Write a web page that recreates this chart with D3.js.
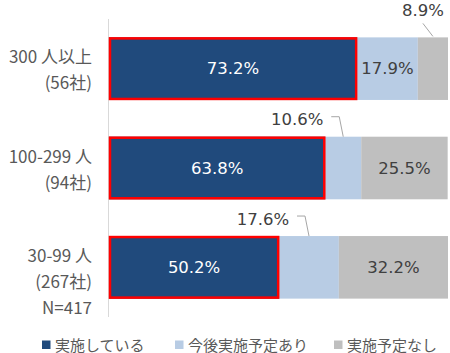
<!DOCTYPE html>
<html>
<head>
<meta charset="utf-8">
<script src="https://cdn.jsdelivr.net/npm/d3@7"></script>
<style>
body { margin: 0; background: #fff; }
svg { font-family: "Noto Sans CJK JP", "Noto Sans", sans-serif; }
.val { font-family: "DejaVu Sans", sans-serif; }
</style>
</head>
<body>
<svg id="chart" width="450" height="353"></svg>
<script>
// categories and series (percent)
let categories = ['300', '100-299', '30-99'];
let catLines = [['300 人以上', '(56社)'], ['100-299 人', '(94社)'], ['30-99 人', '(267社)', 'N=417']];
let seriesNames = ['実施している', '今後実施予定あり', '実施予定なし'];
let doing = [73.2, 63.8, 50.2];
let planned = [17.9, 10.6, 17.6];
let notPlanned = [8.9, 25.5, 32.2];
let colors = ['#204a7c', '#b8cce4', '#bfbfbf'];

let svg = d3.select('#chart');

let x = d3.scaleLinear().domain([0, 100]).range([109, 448]);
let y = d3.scaleBand().domain(categories).range([19, 317]).paddingInner(0.37).paddingOuter(0.185);

// build stacked rows
let rows = categories.map((c, i) => ({cat: c, v: [doing[i], planned[i], notPlanned[i]]}));
let stack = d3.stack().keys([0, 1, 2]).value((d, k) => d.v[k]);
let layers = stack(rows);

// axis line
svg.append('line')
    .attr('x1', 108.5).attr('x2', 108.5)
    .attr('y1', 19).attr('y2', 317)
    .attr('stroke', '#d9d9d9').attr('stroke-width', 1);

layers.forEach((layer, k) => {
    svg.selectAll('.s' + k)
        .data(layer)
        .enter()
        .append('rect')
        .attr('x', d => x(d[0]))
        .attr('width', d => x(d[1]) - x(d[0]))
        .attr('y', d => y(d.data.cat))
        .attr('height', y.bandwidth())
        .attr('fill', colors[k]);
});

// red outline around 実施している bars
svg.selectAll('.hl')
    .data(layers[0])
    .enter()
    .append('rect')
    .attr('x', d => x(d[0]) + 1)
    .attr('width', d => x(d[1]) - x(d[0]) - 2)
    .attr('y', d => y(d.data.cat) + 1)
    .attr('height', y.bandwidth() - 2)
    .attr('fill', 'none')
    .attr('stroke', '#ff0000')
    .attr('stroke-width', 2.5);

// value labels
let fs = 17;
function label(tx, ty, txt, col) {
    svg.append('text')
        .attr('class', 'val')
        .attr('x', tx).attr('y', ty)
        .attr('text-anchor', 'middle')
        .attr('dominant-baseline', 'central')
        .attr('font-size', 16.5)
        .attr('fill', col)
        .text(txt);
}
function mid(d) { return (x(d[0]) + x(d[1])) / 2; }
function cy(i) { return y(categories[i]) + y.bandwidth() / 2; }

// dark series labels (white)
layers[0].forEach((d, i) => label(mid(d), cy(i), doing[i].toFixed(1) + '%', '#fff'));

// planned: first inside, others callouts above
label(mid(layers[1][0]), cy(0), planned[0].toFixed(1) + '%', '#404040');
[1, 2].forEach(i => {
    let m = mid(layers[1][i]);
    let top = y(categories[i]);
    let ty = top - 17;
    label(m - 46, ty, planned[i].toFixed(1) + '%', '#404040');
    svg.append('path')
        .attr('d', `M${m - 12},${ty - 3} L${m - 4},${ty - 3} L${m},${top}`)
        .attr('fill', 'none').attr('stroke', '#a6a6a6').attr('stroke-width', 1);
});

// not planned: first callout above, others inside
{
    let m = mid(layers[2][0]);
    let top = y(categories[0]);
    label(m - 10, 10, notPlanned[0].toFixed(1) + '%', '#404040');
    svg.append('line')
        .attr('x1', m - 10).attr('y1', top - 14)
        .attr('x2', m).attr('y2', top - 1)
        .attr('stroke', '#a6a6a6').attr('stroke-width', 1);
}
[1, 2].forEach(i => label(mid(layers[2][i]), cy(i), notPlanned[i].toFixed(1) + '%', '#404040'));

// category labels
catLines.forEach((lines, i) => {
    let base = cy(i) - 13;
    svg.append('text')
        .attr('text-anchor', 'end')
        .attr('font-size', fs)
        .attr('fill', '#595959')
        .selectAll('tspan')
        .data(lines)
        .enter()
        .append('tspan')
        .attr('x', 92)
        .attr('y', (t, j) => base + j * 26)
        .attr('dominant-baseline', 'central')
        .text(t => t);
});

// legend
let legX = [42, 175, 334];
seriesNames.forEach((n, k) => {
    svg.append('rect')
        .attr('x', legX[k]).attr('y', 340.5)
        .attr('width', 8.5).attr('height', 8.5)
        .attr('fill', colors[k]);
    svg.append('text')
        .attr('x', legX[k] + 13).attr('y', 344)
        .attr('dominant-baseline', 'central')
        .attr('font-size', 15)
        .attr('fill', '#595959')
        .text(n);
});
</script>
</body>
</html>
